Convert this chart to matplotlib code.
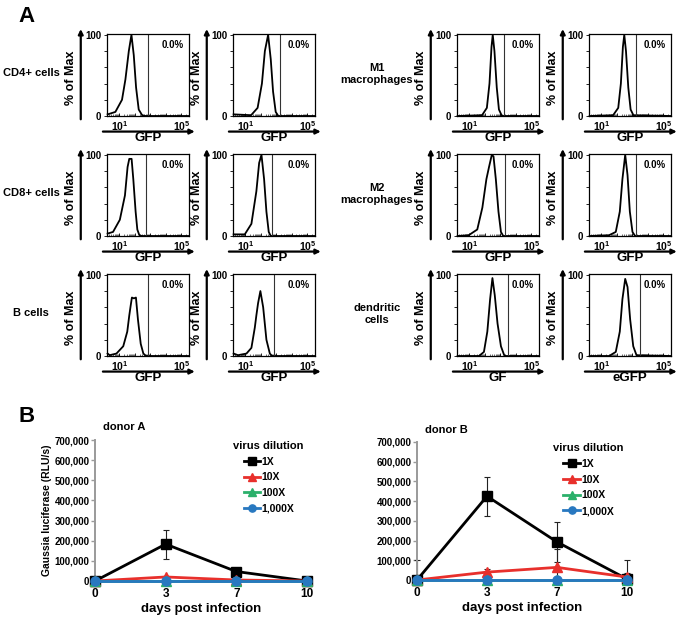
#!/usr/bin/env python

import matplotlib
matplotlib.use('Agg')
import matplotlib.pyplot as plt
import numpy as np

plt.rcParams['font.family'] = ['Liberation Sans', 'DejaVu Sans']
plt.rcParams['mathtext.fontset'] = 'custom'
plt.rcParams['mathtext.rm'] = 'Liberation Sans'
plt.rcParams['mathtext.bf'] = 'Liberation Sans:bold'

W, H = 683, 619

# ---- panel A: flow histograms (x in log10 fluorescence, y in % of max) ----
row_labels = ['CD4+ cells', 'CD8+ cells', 'B cells']
row_labels_right = ['M1\nmacrophages', 'M2\nmacrophages', 'dendritic\ncells']
gate_pct = ['0.0%'] * 12
x_labels = ['GFP', 'GFP', 'GFP', 'GFP',
            'GFP', 'GFP', 'GFP', 'GFP',
            'GFP', 'GFP', 'GF', 'eGFP']

cd4_a_x = [0.24, 0.74, 1.17, 1.39, 1.61, 1.78, 1.93, 2.08, 2.25, 2.47, 2.69, 5.5]
cd4_a_y = [2, 5, 20, 45, 80, 100, 75, 35, 8, 1, 0, 0]
cd4_b_x = [0.24, 1.37, 1.79, 2.07, 2.26, 2.47, 2.64, 2.79, 2.96, 3.13, 5.5]
cd4_b_y = [2, 1, 10, 40, 80, 100, 70, 30, 5, 0, 0]
m1_a_x = [0.24, 1.82, 2.13, 2.30, 2.43, 2.51, 2.62, 2.77, 2.91, 3.08, 3.19, 5.5]
m1_a_y = [0, 1, 10, 40, 85, 100, 80, 35, 8, 1, 0, 0]
m1_b_x = [0.24, 1.76, 2.09, 2.26, 2.39, 2.48, 2.59, 2.74, 2.89, 3.07, 5.5]
m1_b_y = [0, 1, 10, 40, 85, 100, 80, 35, 8, 1, 0]

cd8_a_x = [0.24, 0.59, 1.03, 1.36, 1.53, 1.64, 1.79, 1.90, 2.05, 2.16, 2.29, 2.45, 5.5]
cd8_a_y = [3, 5, 20, 50, 85, 95, 95, 70, 30, 8, 1, 0, 0]
cd8_b_x = [0.24, 0.96, 1.39, 1.71, 1.89, 2.04, 2.21, 2.36, 2.51, 2.64, 5.5]
cd8_b_y = [2, 2, 15, 55, 90, 100, 70, 30, 5, 0, 0]
m2_a_x = [0.24, 0.96, 1.51, 1.84, 2.10, 2.27, 2.45, 2.56, 2.71, 2.88, 3.04, 3.19, 5.5]
m2_a_y = [0, 1, 8, 35, 70, 85, 100, 98, 70, 30, 5, 0, 0]
m2_b_x = [0.24, 1.50, 1.93, 2.19, 2.36, 2.54, 2.69, 2.84, 3.01, 3.18, 5.5]
m2_b_y = [0, 1, 5, 30, 70, 100, 75, 30, 5, 0, 0]

b_a_x = [0.24, 0.37, 0.81, 1.25, 1.51, 1.64, 1.73, 1.81, 1.94, 2.07, 2.20, 2.38, 2.55, 2.73, 5.5]
b_a_y = [3, 1, 3, 12, 30, 50, 62, 72, 71, 72, 45, 15, 3, 0, 0]
b_b_x = [0.24, 0.52, 1.07, 1.39, 1.61, 1.71, 1.82, 1.97, 2.15, 2.36, 2.58, 2.73, 5.5]
b_b_y = [3, 1, 3, 10, 35, 50, 65, 80, 60, 20, 3, 0, 0]
dc_a_x = [0.24, 1.62, 1.94, 2.16, 2.34, 2.49, 2.64, 2.82, 3.04, 3.25, 3.36, 5.5]
dc_a_y = [0, 0, 5, 30, 70, 96, 75, 40, 12, 1, 0, 0]
dc_b_x = [0.24, 1.50, 1.93, 2.19, 2.36, 2.54, 2.69, 2.86, 3.06, 3.27, 5.5]
dc_b_y = [0, 0, 5, 30, 70, 95, 85, 45, 12, 1, 0]

hist_x = [cd4_a_x, cd4_b_x, m1_a_x, m1_b_x,
          cd8_a_x, cd8_b_x, m2_a_x, m2_b_x,
          b_a_x, b_b_x, dc_a_x, dc_b_x]
hist_y = [cd4_a_y, cd4_b_y, m1_a_y, m1_b_y,
          cd8_a_y, cd8_b_y, m2_a_y, m2_b_y,
          b_a_y, b_b_y, dc_a_y, dc_b_y]
gates = [2.83, 3.27, 3.25, 3.24,
         2.73, 2.73, 3.30, 3.27,
         2.82, 2.86, 3.51, 3.49]

# ---- panel B: Gaussia luciferase ----
days = ['0', '3', '7', '10']
dilutions = ['1X', '10X', '100X', '1,000X']
colors = ['black', '#e8302c', '#2bb06a', '#2878c0']
markers = ['s', '^', '^', 'o']

donor_a = [[0, 183000, 47000, 0],
           [0, 20000, 5000, 0],
           [0, 0, 0, 0],
           [0, 0, 0, 0]]
donor_a_err = [[0, 72000, 20000, 0],
               [0, 5000, 2000, 0],
               [0, 0, 0, 0],
               [0, 0, 0, 0]]
donor_b = [[0, 425000, 193000, 5000],
           [0, 40000, 64000, 15000],
           [0, 0, 0, 0],
           [0, 0, 0, 0]]
donor_b_err = [[100000, 100000, 100000, 95000],
               [0, 15000, 95000, 20000],
               [0, 0, 0, 0],
               [0, 0, 0, 0]]


def px_rect(left, top, w, h):
    return [left / W, 1 - (top + h) / H, w / W, h / H]


def flow_panel(ax, x, y, gate, xlab, pct):
    ax.plot(x, y, color='black', lw=1.3, clip_on=False)
    ax.axvline(gate, color='#333333', lw=0.8)
    ax.set_xlim(0.2, 5.5)
    ax.set_ylim(0, 101)
    ax.set_yticks([0, 20, 40, 60, 80, 100])
    ax.set_yticklabels(['0', '', '', '', '', '100'])
    ax.set_xticks([1, 2, 3, 4, 5])
    ax.set_xticklabels([r'$\mathbf{10^1}$', '', '', '', r'$\mathbf{10^5}$'])
    minor = np.log10(np.outer(10.0 ** np.arange(0, 6), np.arange(2, 10)).ravel())
    ax.set_xticks(minor[(minor > 0.2) & (minor < 5.5)], minor=True)
    ax.tick_params(axis='x', which='major', direction='in', length=2.5, width=0.6,
                   labelsize=7.5, pad=2)
    ax.tick_params(axis='x', which='minor', direction='in', length=1.2, width=0.4)
    ax.tick_params(axis='y', direction='out', length=2.5, width=0.6,
                   labelsize=7, pad=1.5)
    for lab in ax.get_yticklabels():
        lab.set_fontweight('bold')
    for s in ax.spines.values():
        s.set_linewidth(0.9)
    ax.text(0.93, 0.93, pct, transform=ax.transAxes, ha='right', va='top',
            fontsize=7, fontweight='bold')
    ax.annotate('', xy=(-0.32, 1.06), xytext=(-0.32, -0.04), xycoords='axes fraction',
                arrowprops=dict(arrowstyle='-|>', lw=1.6, color='black',
                                mutation_scale=7, shrinkA=0, shrinkB=0),
                annotation_clip=False)
    ax.annotate('', xy=(1.07, -0.19), xytext=(-0.05, -0.19), xycoords='axes fraction',
                arrowprops=dict(arrowstyle='-|>', lw=1.6, color='black',
                                mutation_scale=7, shrinkA=0, shrinkB=0),
                annotation_clip=False)
    ax.text(-0.44, 0.47, '% of Max', transform=ax.transAxes, rotation=90,
            ha='center', va='center', fontsize=9, fontweight='bold')
    ax.text(0.5, -0.27, xlab, transform=ax.transAxes, ha='center', va='center',
            fontsize=9.5, fontweight='bold')


def luc_panel(ax, data, err, title, ylabel=None):
    pos = np.arange(len(days))
    for i in range(len(dilutions)):
        # lower whisker stops at the x axis
        lower = np.minimum(err[i], data[i])
        ax.errorbar(pos, data[i], yerr=[lower, err[i]], fmt='none', ecolor='#222222',
                    elinewidth=0.8, capsize=2.5, capthick=0.8, zorder=2, clip_on=False)
    for i in range(len(dilutions)):
        ax.plot(pos, data[i], color=colors[i], marker=markers[i], lw=2,
                markersize=6.5, label=dilutions[i], clip_on=False, zorder=3 + i)
    ax.set_xlim(0, 3)
    ax.set_ylim(0, 700000)
    ax.set_yticks(np.arange(0, 700001, 100000))
    ax.set_yticklabels(['0'] + ['{:,}'.format(v) for v in range(100000, 700001, 100000)])
    ax.set_xticks(pos)
    ax.set_xticklabels(days)
    for side in ['top', 'right', 'bottom']:
        ax.spines[side].set_visible(False)
    ax.spines['left'].set_color('#9a9a9a')
    ax.spines['left'].set_linewidth(1.4)
    ax.tick_params(axis='y', color='#9a9a9a', length=3, width=1, labelsize=7, pad=1)
    ax.tick_params(axis='x', length=0, labelsize=8.5, pad=5)
    for lab in ax.get_yticklabels() + ax.get_xticklabels():
        lab.set_fontweight('bold')
    ax.set_xlabel('days post infection', fontsize=9.5, fontweight='bold', labelpad=2)
    if ylabel:
        ax.set_ylabel(ylabel, fontsize=7.5, fontweight='bold', labelpad=2)
    ax.text(0.04, 1.09, title, transform=ax.transAxes, fontsize=8, fontweight='bold',
            va='center')
    leg = ax.legend(loc='upper right', bbox_to_anchor=(1.03, 1.06), frameon=False,
                    title='virus dilution', handlelength=1.6, handletextpad=0.1,
                    labelspacing=0.55, fontsize=7.5, markerscale=0.8)
    leg.get_title().set_fontweight('bold')
    leg.get_title().set_fontsize(8)
    for t in leg.get_texts():
        t.set_fontweight('bold')


fig = plt.figure(figsize=(W / 100, H / 100), dpi=100)

col_left = [107, 233, 457, 589]
row_top = [34, 154, 274]
for r in range(3):
    for c in range(4):
        k = r * 4 + c
        ax = fig.add_axes(px_rect(col_left[c], row_top[r], 82, 82))
        flow_panel(ax, hist_x[k], hist_y[k], gates[k], x_labels[k], gate_pct[k])
    fig.text(31 / W, 1 - (row_top[r] + 39) / H, row_labels[r], ha='center', va='center',
             fontsize=8, fontweight='bold')
    fig.text(377 / W, 1 - (row_top[r] + 40) / H, row_labels_right[r], ha='center',
             va='center', fontsize=8, fontweight='bold', linespacing=1.25)

fig.text(18 / W, 1 - 16 / H, 'A', fontsize=16, fontweight='bold', va='center')
fig.text(18 / W, 1 - 416 / H, 'B', fontsize=16, fontweight='bold', va='center')

ax_a = fig.add_axes(px_rect(95, 440, 212, 141))
luc_panel(ax_a, donor_a, donor_a_err, 'donor A', ylabel='Gaussia luciferase (RLU/s)')
ax_b = fig.add_axes(px_rect(417, 442, 210, 138))
luc_panel(ax_b, donor_b, donor_b_err, 'donor B')

fig.savefig('out.png', dpi=100)
